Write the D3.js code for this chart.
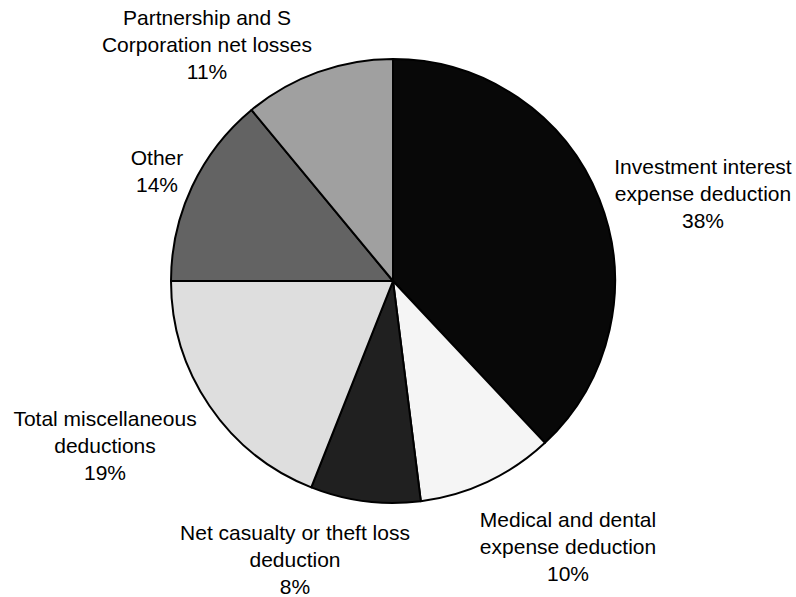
<!DOCTYPE html>
<html>
<head>
<meta charset="utf-8">
<script src="https://cdn.jsdelivr.net/npm/d3@7/dist/d3.min.js"></script>
<style>
  html, body { margin: 0; padding: 0; background: #fff; }
  svg { display: block; }
  text { font-family: "Liberation Sans", Arial, sans-serif; font-size: 21px; fill: #000; }
</style>
</head>
<body>
<svg id="chart" width="796" height="597"></svg>
<script>
// Share of deductions by type, clockwise from 12 o'clock
const categories = [
  "Investment interest expense deduction",
  "Medical and dental expense deduction",
  "Net casualty or theft loss deduction",
  "Total miscellaneous deductions",
  "Other",
  "Partnership and S Corporation net losses"
];
const shares = [38, 10, 8, 19, 14, 11];
const labelLines = [
  ["Investment interest", "expense deduction"],
  ["Medical and dental", "expense deduction"],
  ["Net casualty or theft loss", "deduction"],
  ["Total miscellaneous", "deductions"],
  ["Other"],
  ["Partnership and S", "Corporation net losses"]
];
const fills = ["#080808", "#f5f5f5", "#202020", "#dedede", "#636363", "#a0a0a0"];

// Layout
const cx = 393, cy = 281, radius = 222;
const lineHeight = 27;
// first-line baseline anchor for each label, relative to the pie centre
const labelAnchors = [
  [310, -107], [175, 246], [-98, 259], [-288, 145], [-236, -116], [-186, -256]
];

const data = categories.map((c, i) => ({ category: c, share: shares[i], lines: labelLines[i], fill: fills[i] }));

const svg = d3.select("#chart");
const g = svg.append("g").attr("transform", `translate(${cx},${cy})`);

const pie = d3.pie().value(d => d.share).sort(null).startAngle(0).endAngle(2 * Math.PI);
const arc = d3.arc().innerRadius(0).outerRadius(radius);

g.selectAll("path.slice")
  .data(pie(data))
  .join("path")
  .attr("class", "slice")
  .attr("d", arc)
  .attr("fill", d => d.data.fill)
  .attr("stroke", "#000")
  .attr("stroke-width", 2)
  .attr("stroke-linejoin", "round");

const labels = g.selectAll("text.label")
  .data(data)
  .join("text")
  .attr("class", "label")
  .attr("text-anchor", "middle")
  .attr("x", (d, i) => labelAnchors[i][0])
  .attr("y", (d, i) => labelAnchors[i][1]);

labels.each(function(d, i) {
  const t = d3.select(this);
  const lines = d.lines.concat([d.share + "%"]);
  lines.forEach((ln, k) => {
    t.append("tspan")
      .attr("x", labelAnchors[i][0])
      .attr("dy", k === 0 ? 0 : lineHeight)
      .text(ln);
  });
});
</script>
</body>
</html>
